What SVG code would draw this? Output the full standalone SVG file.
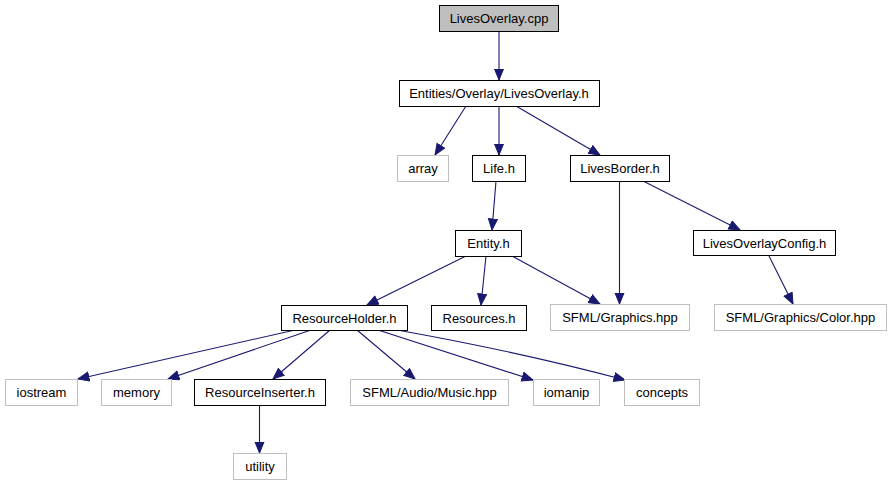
<svg xmlns="http://www.w3.org/2000/svg" width="891" height="485" viewBox="0 0 891 485">
<defs>
<marker id="ah" markerUnits="userSpaceOnUse" markerWidth="13" markerHeight="11" refX="11.5" refY="5" orient="auto" viewBox="0 0 13 11">
<path d="M0.5,0.5 L11.5,5 L0.5,9.5 z" fill="#191970" stroke="#191970" stroke-width="1"/>
</marker>
<style>
.n rect{fill:#fff;stroke:#000;stroke-width:1}
.g rect{fill:#fff;stroke:#bfbfbf;stroke-width:1}
.root rect{fill:#bfbfbf;stroke:#000;stroke-width:1}
text{font-family:"Liberation Sans",Arial,sans-serif;font-size:13px;fill:#000;text-anchor:middle}
.e path{fill:none;stroke:#191970;stroke-width:1.1;marker-end:url(#ah)}
</style>
</defs>
<rect width="891" height="485" fill="#fff"/>
<g class="e" id="edges">
<path d="M499,31 L499,80"/>
<path d="M466,106 L435,155"/>
<path d="M499,106 L499,155"/>
<path d="M516,106 L600,155"/>
<path d="M496,181 L492,230"/>
<path d="M466,256 L367,305"/>
<path d="M486,256 L481,305"/>
<path d="M512,256 L600,304"/>
<path d="M619.5,181 L619.5,304"/>
<path d="M643,181 L740,230"/>
<path d="M769,256 L793,304"/>
<path d="M295,330 L78,379"/>
<path d="M311,330 L168,379"/>
<path d="M330,330 L273,379"/>
<path d="M357,330 L415,379"/>
<path d="M378,330 L533,380"/>
<path d="M397,330 Q520,352 625,380"/>
<path d="M259.5,405 L259.5,453"/>
</g>
<g id="n_cpp" class="root"><rect x="439.5" y="5.5" width="119" height="26"/><text x="499" y="23">LivesOverlay.cpp</text></g>
<g id="n_lo" class="n"><rect x="399.5" y="80.5" width="200" height="26"/><text x="499" y="98">Entities/Overlay/LivesOverlay.h</text></g>
<g id="n_array" class="g"><rect x="397.5" y="155.5" width="51" height="26"/><text x="423" y="173">array</text></g>
<g id="n_life" class="n"><rect x="472.5" y="155.5" width="53" height="26"/><text x="499" y="173">Life.h</text></g>
<g id="n_lb" class="n"><rect x="570.5" y="155.5" width="99" height="26"/><text x="620" y="173">LivesBorder.h</text></g>
<g id="n_entity" class="n"><rect x="455.5" y="230.5" width="66" height="26"/><text x="488.5" y="248">Entity.h</text></g>
<g id="n_loc" class="n"><rect x="693.5" y="230.5" width="142" height="25"/><text x="764.5" y="248">LivesOverlayConfig.h</text></g>
<g id="n_rh" class="n"><rect x="281.5" y="305.5" width="126" height="25"/><text x="344.5" y="323">ResourceHolder.h</text></g>
<g id="n_res" class="n"><rect x="431.5" y="305.5" width="95" height="25"/><text x="479" y="323">Resources.h</text></g>
<g id="n_sg" class="g"><rect x="550.5" y="304.5" width="139" height="26"/><text x="620" y="322">SFML/Graphics.hpp</text></g>
<g id="n_col" class="g"><rect x="714.5" y="304.5" width="172" height="26"/><text x="800.5" y="322">SFML/Graphics/Color.hpp</text></g>
<g id="n_ios" class="g"><rect x="5.5" y="379.5" width="72" height="26"/><text x="41.5" y="397">iostream</text></g>
<g id="n_mem" class="g"><rect x="101.5" y="379.5" width="70" height="26"/><text x="136.5" y="397">memory</text></g>
<g id="n_ri" class="n"><rect x="194.5" y="379.5" width="131" height="26"/><text x="260" y="397">ResourceInserter.h</text></g>
<g id="n_mus" class="g"><rect x="350.5" y="379.5" width="158" height="26"/><text x="429.5" y="397">SFML/Audio/Music.hpp</text></g>
<g id="n_iom" class="g"><rect x="533.5" y="379.5" width="66" height="26"/><text x="566.5" y="397">iomanip</text></g>
<g id="n_con" class="g"><rect x="624.5" y="379.5" width="75" height="26"/><text x="662" y="397">concepts</text></g>
<g id="n_util" class="g"><rect x="233.5" y="453.5" width="53" height="26"/><text x="260" y="471">utility</text></g>
</svg>
